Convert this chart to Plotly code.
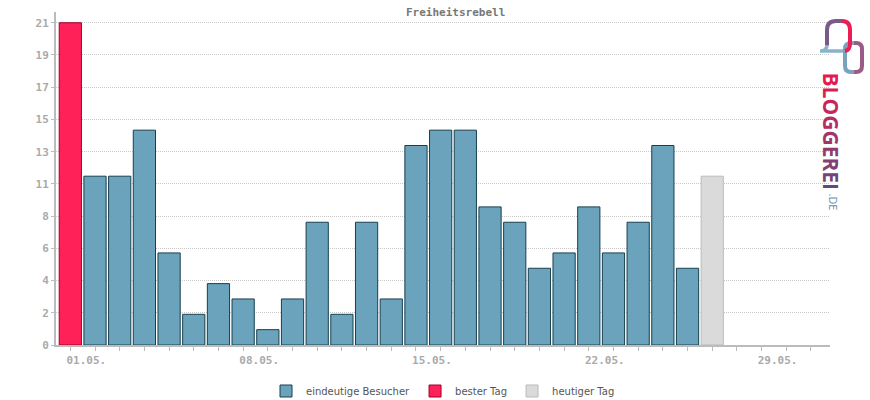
import plotly.graph_objects as go

# ---- data ----
days = list(range(1, 32))
day_labels = [f"{d:02d}.05." for d in days]
label_days = [1, 8, 15, 22, 29]
visitors = [21, 11, 11, 14, 6, 2, 4, 3, 1, 3, 8, 2, 8, 3, 13, 14, 14, 9, 8, 5, 6, 9, 6, 8, 13, 5, 11]
best_day = 1
today = 27
y_tick_vals = [0, 2.1, 4.2, 6.3, 8.4, 10.5, 12.6, 14.7, 16.8, 18.9, 21]
y_tick_text = ["0", "2", "4", "6", "8", "11", "13", "15", "17", "19", "21"]

W, H = 870, 400
ML, MR, MT, MB = 56, 40, 12, 55
PW, PH = W - ML - MR, H - MT - MB


def px(x):
    return (x - ML) / PW


def py(y):
    return (H - MB - y) / PH


blue_x = [d for d in days[:len(visitors)] if d not in (best_day, today)]
blue_y = [visitors[d - 1] for d in blue_x]

fig = go.Figure()
fig.add_trace(go.Bar(x=blue_x, y=blue_y, width=0.9, name="eindeutige Besucher",
                     marker=dict(color="#6aa3bb", line=dict(color="#16404f", width=1))))
fig.add_trace(go.Bar(x=[best_day], y=[visitors[best_day - 1]], width=0.9, name="bester Tag",
                     marker=dict(color="#ff2157", line=dict(color="#a0002c", width=1))))
fig.add_trace(go.Bar(x=[today], y=[visitors[today - 1]], width=0.9, name="heutiger Tag",
                     marker=dict(color="#dadada", line=dict(color="#bbbbbb", width=1))))

ticktext = [lab if d in label_days else "" for d, lab in zip(days, day_labels)]

fig.update_layout(
    width=W, height=H,
    margin=dict(l=ML, r=MR, t=MT, b=MB, autoexpand=False),
    paper_bgcolor="white", plot_bgcolor="white",
    barmode="overlay",
    hovermode=False,
    xaxis=dict(range=[0.42, 31.77], tickmode="array", tickvals=days, ticktext=ticktext,
               ticks="outside", ticklen=4, tickcolor="#bbbbbb", ticklabelshift=16,
               showline=True, linecolor="#bbbbbb", linewidth=2, showgrid=False, zeroline=False,
               tickfont=dict(family="DejaVu Sans Mono", size=11, color="#aaaaaa", weight="bold")),
    yaxis=dict(range=[0, 21.7], tickmode="array", tickvals=y_tick_vals, ticktext=y_tick_text,
               ticks="outside", ticklen=3, tickcolor="#bbbbbb",
               showline=True, linecolor="#bbbbbb", linewidth=2,
               showgrid=True, gridcolor="#c8c8c8", griddash="1px,1px", gridwidth=1, zeroline=False,
               tickfont=dict(family="DejaVu Sans Mono", size=11, color="#aaaaaa", weight="bold")),
    legend=dict(orientation="h", x=0.5, xanchor="center", y=py(391), yanchor="middle",
                font=dict(family="DejaVu Sans", size=10, color="#555555"),
                itemwidth=30, traceorder="normal"),
    showlegend=True,
)

# title
fig.add_annotation(text="Freiheitsrebell", xref="paper", yref="paper", x=px(456), y=py(12),
                   xanchor="center", yanchor="middle", showarrow=False,
                   font=dict(family="DejaVu Sans Mono", size=11, color="#777777", weight="bold"))

# ---- logo ----
logo_letters = "BLOGGEREI"
logo_colors = ["#e41b50", "#d81f55", "#c8265b", "#b52d62", "#a23468", "#903a6e", "#7f4074", "#70457a", "#63497f"]
logo_text = "".join(f"<span style='color:{c}'>{ch}</span>" for ch, c in zip(logo_letters, logo_colors))
fig.add_annotation(text=logo_text, textangle=90, xref="paper", yref="paper",
                   x=px(831), y=py(131.5), xanchor="center", yanchor="middle", showarrow=False,
                   font=dict(family="Open Sans", size=21, color="#b02a5e", weight="bold"))
fig.add_annotation(text=".DE", textangle=90, xref="paper", yref="paper",
                   x=px(833), y=py(201.5), xanchor="center", yanchor="middle", showarrow=False,
                   font=dict(family="Open Sans", size=11, color="#5e8fb0"))


def P(x, y):
    return f"{px(x)},{py(y)}"


# right ring: left half bluish, right half mauve
fig.add_shape(type="path", xref="paper", yref="paper",
              path=f"M{P(853.5,72)} L{P(851,72)} Q{P(845,72)} {P(845,66)} L{P(845,49)} Q{P(845,43)} {P(851,43)} L{P(853.5,43)}",
              line=dict(color="#7aa3bb", width=4))
fig.add_shape(type="path", xref="paper", yref="paper",
              path=f"M{P(853.5,43)} L{P(856,43)} Q{P(862,43)} {P(862,49)} L{P(862,66)} Q{P(862,72)} {P(856,72)} L{P(853.5,72)}",
              line=dict(color="#9a5c86", width=4))
# left arch: left side + top
fig.add_shape(type="path", xref="paper", yref="paper",
              path=f"M{P(827,46)} L{P(827,30)} Q{P(827,21)} {P(836,21)} L{P(842,21)}",
              line=dict(color="#7a5a88", width=4))
fig.add_shape(type="path", xref="paper", yref="paper",
              path=f"M{P(842,21)} Q{P(850,21)} {P(850,30)} L{P(850,44)} Q{P(850,50)} {P(845,51)}",
              line=dict(color="#ec1d55", width=4))
# tail
fig.add_shape(type="path", xref="paper", yref="paper",
              path=f"M{P(827,45)} Q{P(827,51)} {P(820,51)} L{P(843,51)}",
              line=dict(color="#86b4c8", width=3.5))

fig.write_html("out.html", config={"displayModeBar": False, "staticPlot": True},
               post_script="document.body.style.margin='0';document.body.style.overflow='hidden';")
